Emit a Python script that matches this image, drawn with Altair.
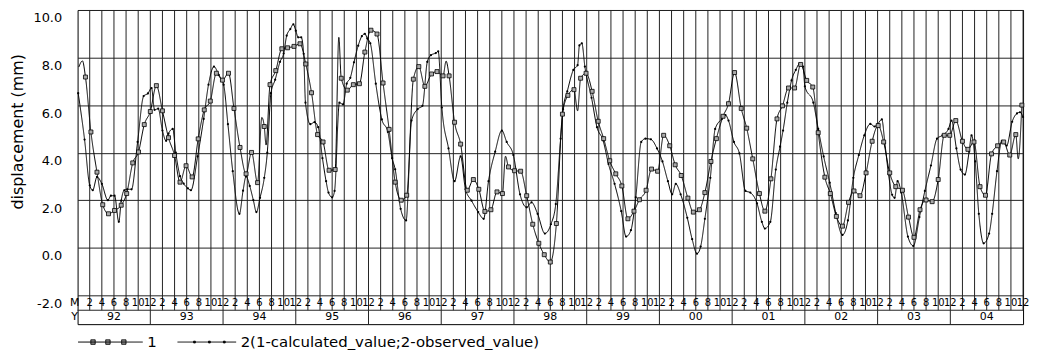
import altair as alt
import pandas as pd

FONT = "DejaVu Sans"

# ---- data (x = months since start of 1992) ----
CALC_M = [1.3, 2.2, 3.2, 4.15, 5.1, 6.1, 7.2, 8.1, 9.1, 10.05, 11.0, 12.0, 13.0, 14.0, 15.0, 16.0, 16.9, 17.9, 18.9, 19.9,
          20.9, 21.9, 22.9, 23.9, 24.9, 25.8, 26.8, 27.8, 28.7, 29.7, 30.8, 31.75, 32.7, 33.7, 34.65, 35.7, 36.7, 37.65,
          38.6, 39.6, 40.5, 41.5, 42.5, 43.5, 44.5, 45.5, 46.5, 47.4, 48.4, 49.4, 50.4, 51.4, 52.4, 53.4, 54.3, 55.4,
          56.3, 57.3, 58.4, 59.3, 60.3, 61.3, 62.2, 63.2, 64.3, 65.3, 66.2, 67.2, 68.2, 69.2, 70.1, 71.1, 72.1, 73.1,
          74.1, 75.1, 76.1, 77.0, 78.0, 79.0, 80.0, 80.9, 81.9, 83.0, 83.9, 84.9, 85.9, 86.8, 87.8, 88.8, 89.8, 90.8,
          91.8, 92.7, 93.8, 94.7, 95.7, 96.7, 97.7, 98.6, 99.6, 100.7, 101.6, 102.6, 103.5, 104.5, 105.4, 106.5, 107.4,
          108.4, 109.5, 110.4, 111.4, 112.5, 113.4, 114.4, 115.4, 116.3, 117.3, 118.3, 119.3, 120.3, 121.3, 122.2,
          123.3, 124.2, 125.2, 126.2, 127.2, 128.1, 129.1, 130.1, 131.1, 132.1, 133.0, 134.0, 135.0, 136.1, 137.1,
          138.0, 139.0, 140.0, 141.0, 142.0, 143.0, 143.9, 144.9, 146.0, 146.9, 147.9, 148.9, 149.8, 150.8, 151.8,
          152.8, 153.8, 154.8, 155.8]
CALC_V = [7.18, 4.87, 3.18, 1.81, 1.43, 1.57, 1.79, 2.28, 3.57, 4.03, 5.18, 5.73, 6.82, 5.76, 4.63, 3.88, 2.76, 3.45, 2.98, 4.58,
          5.80, 6.17, 7.34, 7.05, 7.34, 5.86, 4.22, 3.11, 4.01, 2.74, 5.10, 6.86, 7.45, 8.37, 8.41, 8.47, 8.58, 7.73,
          6.52, 4.76, 4.45, 3.26, 3.29, 7.13, 6.63, 6.86, 6.90, 8.23, 9.15, 8.99, 6.93, 4.98, 2.76, 2.00, 2.21, 7.09,
          7.62, 6.79, 7.31, 7.41, 7.23, 7.23, 5.28, 4.36, 2.42, 2.87, 2.46, 1.53, 1.60, 2.35, 2.28, 3.40, 3.24, 3.22,
          2.19, 0.99, 0.19, -0.29, -0.60, 1.02, 5.62, 6.41, 6.65, 7.13, 7.34, 6.58, 5.32, 4.59, 3.66, 3.11, 2.60, 1.22,
          1.54, 2.02, 2.42, 3.31, 3.22, 4.73, 4.29, 3.49, 3.04, 2.09, 1.50, 1.60, 2.32, 3.63, 4.59, 5.53, 6.06,
          7.37, 5.86, 5.03, 3.74, 2.28, 1.54, 2.90, 5.42, 5.97, 6.72, 6.72, 7.71, 7.04, 6.76, 4.84,
          2.97, 2.28, 1.32, 0.91, 1.91, 2.39, 2.19, 3.15, 4.48, 5.14, 4.45, 3.15, 2.57, 2.42, 1.29,
          0.44, 1.60, 2.01, 1.94, 2.87, 4.73, 4.73, 5.35, 4.48, 4.14, 4.45, 2.57, 2.21, 3.95, 4.29,
          4.45, 3.90, 4.76, 6.00]
# vertices of the calculated curve that carry no marker
CALC_EXTRA_M = [0.2, 0.8, 30.4, 31.1, 43.1, 60.8, 70.6, 82.5, 155.2]
CALC_EXTRA_V = [7.60, 7.86, 5.48, 4.32, 8.85, 7.85, 3.85, 5.76, 3.74]

OBS_M = [0.1, 1.15, 2.0, 2.5, 3.2, 4.0, 5.0, 5.5, 6.1, 6.8, 7.2, 7.7, 8.2, 8.9, 9.9, 10.9, 11.6, 12.2, 12.7, 13.3, 14.0,
         14.6, 15.0, 15.7, 16.2, 16.9, 17.5, 18.2, 18.7, 19.8, 20.8, 21.6, 22.5, 23.3, 24.1, 24.8, 25.6, 26.7, 27.3,
         27.8, 28.4, 29.0, 29.5, 30.1, 30.8, 31.3, 31.9, 32.6, 33.4, 34.0, 34.5, 35.1, 35.6, 36.0, 36.4, 36.9, 37.3,
         37.6, 38.4, 39.1, 39.7, 40.4, 41.0, 41.4, 42.0, 42.4, 43.2, 43.8, 44.4, 45.0, 45.6, 46.3, 46.9, 47.4, 47.8,
         48.3, 49.2, 50.2, 51.2, 51.9, 52.4, 53.3, 54.2, 55.1, 56.1, 56.9, 57.7, 58.3, 59.1, 59.5, 60.1, 61.2, 62.2,
         63.2, 64.0, 65.0, 66.1, 67.0, 67.8, 68.9, 70.0, 70.8, 71.9, 73.0, 74.1, 74.9, 75.9, 77.1, 78.1, 78.9, 79.7,
         80.1, 80.8, 81.8, 82.5, 82.8, 83.2, 83.7, 84.8, 85.7, 86.7, 87.6, 88.6, 89.7, 90.5, 91.3, 92.1, 93.0, 93.7,
         94.6, 95.6, 96.5, 97.4, 98.1, 98.7, 99.5, 100.6, 101.4, 102.2, 102.8, 103.5, 104.4, 105.2, 106.3, 106.9,
         107.4, 108.3, 109.2, 110.2, 111.0, 112.1, 112.9, 113.4, 114.3, 115.2, 115.9, 116.4, 117.1, 117.8, 118.5,
         119.1, 119.7, 120.0, 121.4, 122.2, 123.1, 124.1, 125.1, 126.2, 127.1, 128.0, 128.9, 129.8, 130.8, 131.5,
         132.0, 132.7, 133.2, 133.8, 134.4, 134.8, 135.3, 135.9, 137.0, 137.9, 138.9, 139.8, 140.8, 141.8, 142.7,
         143.7, 144.2, 145.0, 145.7, 146.4, 147.1, 147.5, 148.1, 148.7, 149.5, 150.4, 150.9, 151.7, 152.5, 153.3,
         154.2, 155.0, 155.5, 156.0]
OBS_V = [6.50, 4.55, 2.63, 2.42, 2.98, 2.69, 2.00, 2.19, 2.19, 1.09, 1.98, 2.42, 2.46, 2.46, 4.45, 6.38, 6.49, 6.72, 5.80, 5.85, 4.93,
         4.50, 4.80, 5.00, 4.00, 3.01, 2.70, 2.50, 2.42, 3.84, 5.42, 6.86, 7.62, 7.27, 6.86, 5.20, 3.22, 1.43, 2.40,
         3.00, 2.60, 2.00, 1.50, 2.10, 2.94, 4.00, 6.50, 7.07, 7.82, 8.17, 8.92, 9.20, 9.40, 9.13, 8.85, 8.85, 8.16,
         6.10, 5.20, 5.28, 5.07, 3.77, 2.80, 2.32, 2.12, 2.39, 6.10, 6.03, 6.90, 7.15, 7.80, 8.50, 8.90, 9.00, 8.80,
         8.60, 6.90, 5.40, 4.87, 3.77, 3.30, 1.64, 1.15, 5.35, 5.83, 5.97, 7.82, 8.10, 8.19, 8.26, 5.90, 4.18, 2.80,
         3.84, 2.46, 1.98, 1.50, 1.22, 2.80, 4.04, 4.93, 4.45, 3.90, 2.25, 1.70, 1.91, 1.43, 0.60, 0.99, 1.84, 4.59,
         5.83, 6.58, 7.48, 7.68, 8.51, 8.60, 7.62, 6.31, 5.07, 4.52, 3.52, 2.69, 1.54, 0.47, 0.74, 2.12, 4.45, 4.59,
         4.56, 4.18, 3.63, 2.80, 2.25, 2.69, 2.25, 1.26, 0.36, -0.25, 0.05, 1.22, 2.94, 5.00, 5.42, 5.58,
         5.35, 4.45, 3.97, 2.39, 2.32, 1.87, 1.09, 0.81, 1.09, 3.29, 4.25, 4.93, 6.10, 7.04, 7.48,
         7.73, 7.62, 6.79, 6.10, 5.00, 3.84, 2.74, 1.46, 0.54, 1.15, 2.94, 3.90, 4.73, 5.21, 5.10,
         5.20, 5.40, 4.40, 3.10, 2.23, 2.10, 2.80, 2.32, 0.47, 0.08, 1.29, 2.39, 3.46, 4.59, 4.73,
         5.00, 5.35, 4.18, 3.29, 3.08, 4.04, 4.73, 3.63, 1.43, 0.19, 0.60, 1.43, 3.22, 4.50, 4.30,
         5.30, 5.65, 5.70, 5.50]

Y_TICKS = [-2, 0, 2, 4, 6, 8, 10]
MONTH_TICKS = [2, 4, 6, 8, 10, 12]
YEARS = ["92", "93", "94", "95", "96", "97", "98", "99", "00", "01", "02", "03", "04"]
SERIES = ["1", "2(1-calculated_value;2-observed_value)"]
ROW_HEADERS = ["M", "Y"]

# ---- layout constants (data units of the y scale) ----
Y_TOP = 10
ROW_M = -2.627   # bottom of the month row
ROW_Y = -3.212   # bottom of the year row
N_MONTHS = 12 * len(YEARS)

xs = alt.Scale(domain=[0, N_MONTHS], nice=False, zero=False)
ys = alt.Scale(domain=[ROW_Y, Y_TOP], nice=False, zero=False)

calc_pts = pd.DataFrame({"m": CALC_M, "v": CALC_V})
calc_line = pd.concat([calc_pts, pd.DataFrame({"m": CALC_EXTRA_M, "v": CALC_EXTRA_V})]).sort_values("m")
calc_line["s"] = SERIES[0]
obs = pd.DataFrame({"m": OBS_M, "v": OBS_V})
obs["s"] = SERIES[1]

month_df = pd.DataFrame({
    "m": [12 * i + k for i in range(len(YEARS)) for k in MONTH_TICKS],
    "lab": [str(k) for i in range(len(YEARS)) for k in MONTH_TICKS],
})
month_df["v"] = Y_TOP
month_df["y1"] = ROW_M
month_df["yt"] = (-2 + ROW_M) / 2

year_df = pd.DataFrame({"m": [12 * i + 6 for i in range(len(YEARS))], "lab": YEARS})
year_df["v"] = (ROW_M + ROW_Y) / 2
ysep_df = pd.DataFrame({"m": [12 * i for i in range(1, len(YEARS))]})
ysep_df["v"] = ROW_M
ysep_df["y1"] = ROW_Y
hrow_df = pd.DataFrame({"v": [ROW_M]})
hdr_df = pd.DataFrame({"m": [0, 0], "lab": ROW_HEADERS, "v": [(-2 + ROW_M) / 2, (ROW_M + ROW_Y) / 2]})
month_txt = month_df[["m", "lab", "yt"]].rename(columns={"yt": "v"})

X = alt.X("m:Q", scale=xs, axis=None)

yaxis = alt.Axis(values=Y_TICKS, grid=True, gridColor="#222222", gridWidth=1,
                 labelExpr="datum.value < 0 ? '-' + format(-datum.value, '.1f') : format(datum.value, '.1f')",
                 ticks=False, domain=False, labelBaseline="top", labelOffset=2, labelPadding=16,
                 labelFont=FONT, labelFontSize=13, labelColor="black", labelOverlap=False,
                 title="displacement  (mm)", titleFont=FONT, titleFontSize=16, titleFontWeight="normal",
                 titleColor="black", titleX=-60, titleY=122, titleAngle=270, titleAlign="center",
                 titleBaseline="middle")
Y = alt.Y("v:Q", scale=ys, axis=yaxis)

vgrid = alt.Chart(month_df).mark_rule(color="#222222", strokeWidth=1).encode(x=X, y=Y, y2="y1:Q")
ysep = alt.Chart(ysep_df).mark_rule(color="#222222", strokeWidth=1).encode(x=X, y=Y, y2="y1:Q")
hrow = alt.Chart(hrow_df).mark_rule(color="#222222", strokeWidth=1).encode(y=Y)
mtext = alt.Chart(month_txt).mark_text(font=FONT, fontSize=10, color="black", baseline="middle").encode(
    x=X, y=Y, text="lab:N")
ytext = alt.Chart(year_df).mark_text(font=FONT, fontSize=11, color="black", baseline="middle").encode(
    x=X, y=Y, text="lab:N")
htext = alt.Chart(hdr_df).mark_text(font=FONT, fontSize=11, color="black", baseline="middle", dx=-3).encode(
    x=X, y=Y, text="lab:N")

P1 = ("M-1,0H1M-0.606,-0.068h0.136v0.136h-0.136zM-0.145,-0.068h0.136v0.136h-0.136z"
      "M0.347,-0.068h0.136v0.136h-0.136z")
P2 = ("M-1,0H1M-0.451,-0.03h0.06v0.06h-0.06zM0.058,-0.03h0.06v0.06h-0.06z"
      "M0.566,-0.03h0.06v0.06h-0.06z")

leg1 = alt.Legend(title=None, orient="none", legendX=0, legendY=301, padding=0,
                  symbolType=P1, symbolSize=4225, symbolStrokeColor="black", symbolStrokeWidth=1,
                  symbolFillColor="#999999", labelFont=FONT, labelFontSize=15, labelColor="black",
                  labelOffset=4)
leg2 = alt.Legend(title=None, orient="none", legendX=100, legendY=304, padding=0,
                  symbolType=P2, symbolSize=3481, symbolStrokeColor="black", symbolStrokeWidth=1,
                  symbolFillColor="black", labelFont=FONT, labelFontSize=15, labelColor="black",
                  labelOffset=4, labelLimit=0)

obs_line = alt.Chart(obs).mark_line(color="black", strokeWidth=1, interpolate="monotone").encode(
    x=X, y=Y,
    strokeDash=alt.StrokeDash("s:N", scale=alt.Scale(domain=[SERIES[1]], range=[[1, 0]]), legend=leg2))
obs_pts = alt.Chart(obs).mark_circle(size=5, color="black", opacity=1).encode(x=X, y=Y)
calc_l = alt.Chart(calc_line).mark_line(color="black", strokeWidth=1, interpolate="monotone").encode(
    x=X, y=Y,
    strokeDash=alt.StrokeDash("s:N", scale=alt.Scale(domain=[SERIES[0]], range=[[1, 0]]), legend=leg1))
calc_p = alt.Chart(calc_pts).mark_point(shape="square", filled=True, size=16, fill="#aaaaaa",
                                        stroke="black", strokeWidth=0.8, opacity=1).encode(x=X, y=Y)

chart = alt.layer(vgrid, ysep, hrow, mtext, ytext, htext, obs_line, obs_pts, calc_l, calc_p).resolve_scale(
    strokeDash="independent"
).properties(
    width=951, height=316,
    autosize=alt.AutoSizeParams(type="none"),
    padding={"left": 70, "top": 1, "right": 10, "bottom": 28},
    background="white",
).configure_view(stroke="black", strokeWidth=1)

chart.save("out.html", embed_options={"renderer": "svg", "actions": False})
